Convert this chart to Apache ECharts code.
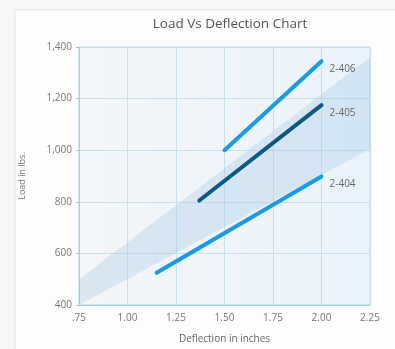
<!DOCTYPE html>
<html>
<head>
<meta charset="utf-8">
<script src="https://cdn.jsdelivr.net/npm/echarts@6/dist/echarts.min.js"></script>
<style>
  html, body { margin: 0; padding: 0; background: #f7f7f7; }
  #main { width: 395px; height: 349px; }
</style>
</head>
<body>
<div id="main"></div>
<script>
// deflection (inches) vs load (lbs) for each spring
const names = ['2-406', '2-405', '2-404']
const deflection406 = [1.5, 2.0]
const load406 = [1000, 1345]
const deflection405 = [1.37, 2.0]
const load405 = [805, 1175]
const deflection404 = [1.15, 2.0]
const load404 = [525, 898]
// shaded range band
const bandX = [0.75, 2.25]
const bandLow = [400, 1005]
const bandHigh = [500, 1360]

let chart = echarts.init(document.getElementById('main'))

function pairs(xs, ys) {
  return xs.map((x, i) => [x, ys[i]])
}

let lineColors = ['#1a9ae0', '#0c5a82', '#1a9ae0']
let lineData = [pairs(deflection406, load406), pairs(deflection405, load405), pairs(deflection404, load404)]

// band polygon: low edge left->right, high edge right->left
let bandData = bandX.map((x, i) => [x, bandLow[i], bandHigh[i]])

let series = [{
  type: 'custom',
  silent: true,
  data: bandData,
  z: 1,
  renderItem: function (params, api) {
    if (params.dataIndex !== 0) return
    let pts = []
    for (let i = 0; i < bandData.length; i++) {
      pts.push(api.coord([bandData[i][0], bandData[i][1]]))
    }
    for (let i = bandData.length - 1; i >= 0; i--) {
      pts.push(api.coord([bandData[i][0], bandData[i][2]]))
    }
    return {
      type: 'polygon',
      shape: { points: pts },
      style: { fill: 'rgba(160,195,225,0.3)' }
    }
  }
}]

for (let j = 0; j < names.length; j++) {
  series.push({
    name: names[j],
    type: 'line',
    data: lineData[j],
    symbol: 'none',
    z: 3,
    lineStyle: { width: 4, color: lineColors[j], cap: 'round' },
    endLabel: {
      show: true,
      formatter: '{a}',
      color: '#666',
      fontSize: 10,
      offset: [0, 8],
      fontFamily: 'Open Sans'
    }
  })
}

let option = {
  backgroundColor: '#f7f7f7',
  animation: false,
  title: {
    text: 'Load Vs Deflection Chart',
    left: 225,
    top: 12,
    textAlign: 'center',
    textStyle: { fontSize: 13.5, fontWeight: 'normal', color: '#555', fontFamily: 'Open Sans' }
  },
  graphic: [{
    type: 'rect',
    shape: { x: 15, y: 10, width: 390, height: 345 },
    style: { fill: '#fdfdfd', stroke: '#e2e2e2', lineWidth: 1 },
    z: -10
  }],
  grid: {
    left: 79,
    right: 25,
    top: 47,
    bottom: 40,
    show: true,
    backgroundColor: new echarts.graphic.LinearGradient(0, 0, 1, 0, [
      { offset: 0, color: '#f4f6f8' },
      { offset: 1, color: '#e9f3fb' }
    ]),
    borderColor: '#b3daee',
    borderWidth: 1
  },
  xAxis: {
    type: 'value',
    min: 0.75,
    max: 2.25,
    interval: 0.25,
    name: 'Deflection in inches',
    nameLocation: 'middle',
    nameGap: 29,
    nameTextStyle: { fontSize: 10, color: '#666', fontFamily: 'Open Sans' },
    axisLine: { lineStyle: { color: '#9fd0ea' } },
    axisTick: { show: false },
    splitLine: { lineStyle: { color: '#c9e0ec' } },
    axisLabel: {
      fontSize: 10,
      color: '#777',
      fontFamily: 'Open Sans',
      formatter: function (v) {
        let s = v.toFixed(2)
        return s.charAt(0) === '0' ? s.slice(1) : s
      }
    }
  },
  yAxis: {
    type: 'value',
    min: 400,
    max: 1400,
    interval: 200,
    name: 'Load in lbs.',
    nameLocation: 'middle',
    nameGap: 52,
    nameTextStyle: { fontSize: 9, color: '#777', fontFamily: 'Open Sans' },
    axisLine: { show: true, lineStyle: { color: '#9fd0ea' } },
    axisTick: { show: true, length: 3, lineStyle: { color: '#bbb' } },
    splitLine: { lineStyle: { color: '#c9e0ec' } },
    axisLabel: {
      fontSize: 10,
      color: '#777',
      fontFamily: 'Open Sans',
      margin: 7,
      formatter: function (v) {
        return v.toLocaleString('en-US')
      }
    }
  },
  series: series
}
chart.setOption(option)
</script>
</body>
</html>
